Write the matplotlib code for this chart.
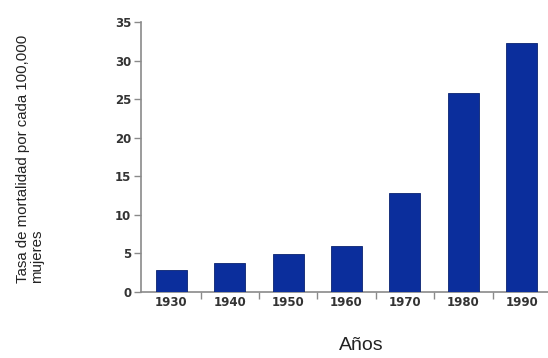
import numpy as np
import matplotlib
matplotlib.use("Agg")
import matplotlib.pyplot as plt
from matplotlib.ticker import FixedLocator

years = ['1930', '1940', '1950', '1960', '1970', '1980', '1990']
rates = [2.8, 3.8, 4.9, 5.9, 12.8, 25.8, 32.3]
y_ticks = [0, 5, 10, 15, 20, 25, 30, 35]

BAR_COLOR = '#0b2e9c'
AXIS_COLOR = '#8a8a8a'
TICK_TEXT = '#333333'

fig = plt.figure(figsize=(5.48, 3.58), dpi=100)
ax = fig.add_axes([141 / 548, 1 - 292 / 358, 407 / 548, 270 / 358])

x = np.arange(len(years))
ax.bar(x, rates, width=0.53, color=BAR_COLOR, edgecolor='#0a2370', linewidth=0.6, zorder=3)

ax.set_xlim(-0.52, 6.45)
ax.set_ylim(0, 35)
ax.set_yticks(y_ticks)
ax.set_xticks(x)
ax.set_xticklabels(years)
ax.xaxis.set_minor_locator(FixedLocator(x[:-1] + 0.5))

for side in ['top', 'right']:
    ax.spines[side].set_visible(False)
for side in ['left', 'bottom']:
    ax.spines[side].set_color(AXIS_COLOR)
    ax.spines[side].set_linewidth(1.2)

ax.tick_params(axis='y', length=5, width=1, color=AXIS_COLOR, pad=2,
               labelsize=8.5, labelcolor=TICK_TEXT)
ax.tick_params(axis='x', which='major', length=0, pad=3,
               labelsize=8.5, labelcolor=TICK_TEXT)
ax.tick_params(axis='x', which='minor', length=5, width=1, color=AXIS_COLOR)
for lbl in ax.get_xticklabels() + ax.get_yticklabels():
    lbl.set_fontweight('bold')

fig.text(30 / 548, 1 - 159 / 358, 'Tasa de mortalidad por cada 100,000\nmujeres',
         rotation=90, ha='center', va='center', multialignment='left',
         family='Liberation Sans', fontsize=10.8, color='#222222', linespacing=1.0)
fig.text(361 / 548, 1 - 345 / 358, 'Años', ha='center', va='center',
         family='Liberation Sans', fontsize=14, color='#222222')

fig.savefig('out.png', dpi=100)
